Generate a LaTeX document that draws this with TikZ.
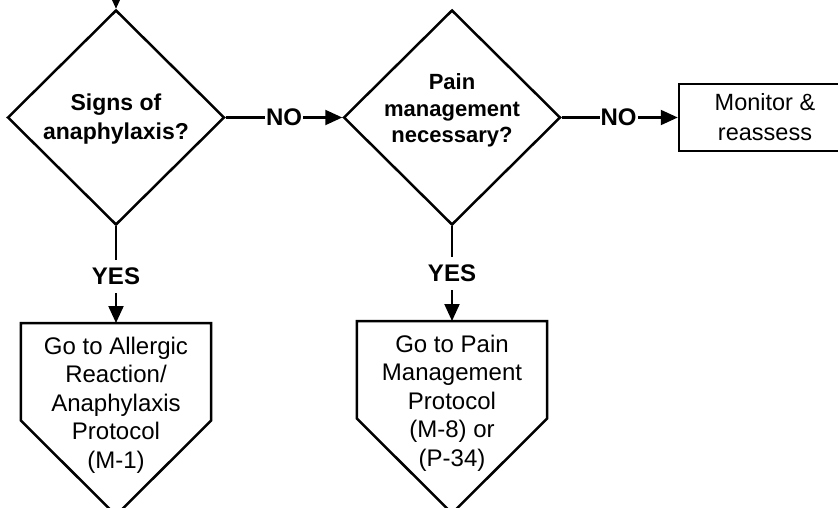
\documentclass[tikz,border=0pt]{standalone}
\usepackage{fontspec}
\setmainfont{Liberation Sans}
\usetikzlibrary{shapes.geometric,arrows.meta,calc}
\begin{document}
\begin{tikzpicture}[x=1pt,y=-1pt,
  shape line/.style={draw=black,line width=2.5pt,line join=miter},
  dia/.style={shape line,diamond,inner sep=0pt,minimum width=217pt,minimum height=215pt},
  diatext/.style={align=center,inner sep=0pt,font=\fontsize{23}{29}\selectfont\bfseries},
  diatext2/.style={diatext,font=\fontsize{22}{26.5}\selectfont\bfseries},
  boxnode/.style={shape line,rectangle,inner sep=0pt,minimum width=172pt,minimum height=67pt,align=center,font=\fontsize{23.5}{30}\selectfont},
  pentbox/.style={rectangle,inner sep=0pt,minimum width=190pt,minimum height=97pt,anchor=north},
  penttext/.style={align=center,inner sep=0pt,font=\fontsize{24}{28.5}\selectfont},
  conn/.style={draw=black,line width=2.1pt,-{Triangle[length=17pt,width=15pt]}},
  lbl/.style={fill=white,inner xsep=1pt,inner ysep=8pt,font=\fontsize{24}{28}\selectfont\bfseries},
]
\useasboundingbox (0,0) rectangle (838,508);
\clip (0,0) rectangle (838,508);

% decisions
\node[dia] (d1) at (116,117.5) {};
\node[diatext] (d1t) at (116,119.5) {Signs of\\anaphylaxis?};
\node[dia] (d2) at (452,117.5) {};
\node[diatext2] (d2t) at (452,110.5) {Pain\\management\\necessary?};

% monitor box
\node[boxnode] (mon) at (765,117.5) {Monitor \&\\reassess};

% off-page pentagon 1
\node[pentbox] (p1) at (116,323) {};
\draw[shape line] (p1.north west) -- (p1.north east) -- (p1.south east)
  -- ($(p1.south)+(0,95)$) -- (p1.south west) -- cycle;
\node[penttext] (p1t) at (116,405) {Go to Allergic\\Reaction/\\Anaphylaxis\\Protocol\\(M-1)};

% off-page pentagon 2
\node[pentbox] (p2) at (452,321) {};
\draw[shape line] (p2.north west) -- (p2.north east) -- (p2.south east)
  -- ($(p2.south)+(0,95)$) -- (p2.south west) -- cycle;
\node[penttext] (p2t) at (452,403) {Go to Pain\\Management\\Protocol\\(M-8) or\\(P-34)};

% incoming connector
\coordinate (top) at (116,-40);
\draw[conn] (top) -- (d1.north);

% connectors
\draw[conn] (d1.east) -- node[lbl,pos=0.5] {NO} (d2.west);
\draw[conn] (d2.east) -- node[lbl,pos=0.49] {NO} (mon.west);
\draw[conn] (d1.south) -- node[lbl,pos=0.5,yshift=-1.5pt] {YES} (p1.north);
\draw[conn] (d2.south) -- node[lbl,pos=0.5] {YES} (p2.north);
\end{tikzpicture}
\end{document}
